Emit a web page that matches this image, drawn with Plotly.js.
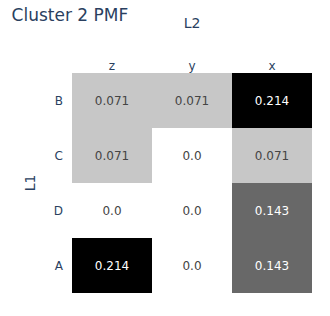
<!DOCTYPE html>
<html>
<head>
<meta charset="utf-8">
<script src="https://cdn.plot.ly/plotly-3.0.1.min.js"></script>
<style>html,body{margin:0;padding:0;background:#fff;}#chart{width:330px;height:316px;}</style>
</head>
<body>
<div id="chart"></div>
<script>
const xLabels = ["z", "y", "x"];
const yLabels = ["B", "C", "D", "A"];
const rowB = [0.071, 0.071, 0.214];
const rowC = [0.071, 0.0, 0.071];
const rowD = [0.0, 0.0, 0.143];
const rowA = [0.214, 0.0, 0.143];
const zValues = [rowB, rowC, rowD, rowA];

function fmt(v) { return Number.isInteger(v) ? v.toFixed(1) : String(v); }
const textValues = zValues.map(r => r.map(fmt));

const greys = [
  [0.0, "rgb(255,255,255)"], [0.125, "rgb(240,240,240)"], [0.25, "rgb(217,217,217)"],
  [0.375, "rgb(189,189,189)"], [0.5, "rgb(150,150,150)"], [0.625, "rgb(115,115,115)"],
  [0.75, "rgb(82,82,82)"], [0.875, "rgb(37,37,37)"], [1.0, "rgb(0,0,0)"]
];

const fontFam = "Verdana, 'DejaVu Sans', sans-serif";

const trace = {
  type: "heatmap",
  x: xLabels,
  y: yLabels,
  z: zValues,
  text: textValues,
  texttemplate: "%{text}",
  textfont: { family: fontFam, size: 12 },
  colorscale: greys,
  showscale: false,
  hoverongaps: false
};

const layout = {
  width: 330,
  height: 316,
  margin: { l: 72, r: 18, t: 73, b: 23 },
  paper_bgcolor: "#fff",
  plot_bgcolor: "#fff",
  font: { family: fontFam, color: "#2a3f5f", size: 12 },
  title: { text: "Cluster 2 PMF", x: 0.035, xanchor: "left", y: 0.97, yanchor: "top", font: { size: 17 } },
  xaxis: {
    side: "top",
    type: "category",
    title: { text: "L2", standoff: 26 },
    showgrid: false, zeroline: false, ticks: "", showline: false
  },
  yaxis: {
    type: "category",
    autorange: "reversed",
    ticklabelstandoff: 8,
    title: { text: "L1", standoff: 14 },
    showgrid: false, zeroline: false, ticks: "", showline: false
  }
};

Plotly.newPlot("chart", [trace], layout, { displayModeBar: false, staticPlot: true });
</script>
</body>
</html>
